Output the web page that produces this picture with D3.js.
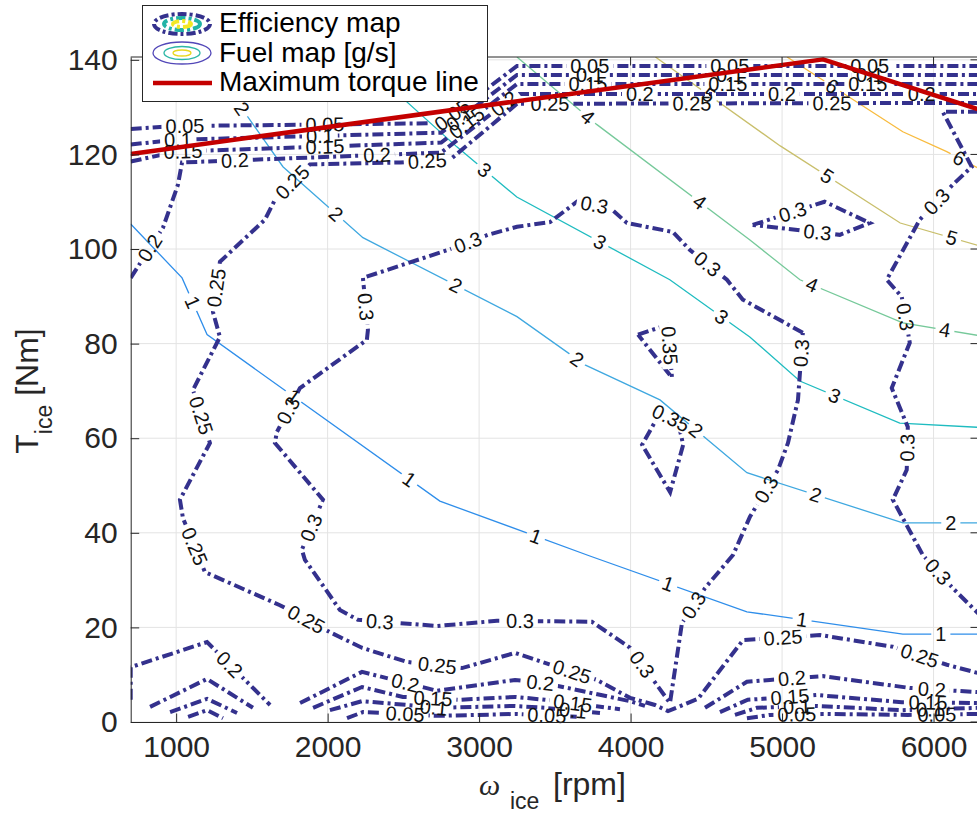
<!DOCTYPE html>
<html lang="en">
<head>
  <meta charset="utf-8">
  <title>Efficiency and fuel map</title>
  <script src="https://d3js.org/d3.v7.min.js"></script>
  <style>
    body { margin: 0; background: #fff; }
    text { font-family: "Liberation Sans", Arial, Helvetica, sans-serif; }
  </style>
</head>
<body>
<script>
  // all points are [speed rpm, torque Nm]

  var xTicks = [1000, 2000, 3000, 4000, 5000, 6000];
  var yTicks = [0, 20, 40, 60, 80, 100, 120, 140];

  var maxTorque = [[700, 120.1], [5270, 140.1], [6300, 129.5]];

  // efficiency map contours (dash-dot)
  var eff005Lines = [
    [[700, 125.4], [1000, 126.0], [2750, 126.6], [3250, 138.7], [6300, 138.7]],
    [[1079, 1.1], [1204, 2.5], [1309, 0.8]],
    [[2128, 0.8], [2233, 2.1], [2392, 1.9], [2722, 1.3], [3250, 1.7], [3666, 1.1]],
    [[4768, 0.8], [4920, 1.5], [5270, 1.7], [5831, 1.5], [6300, 1.7]]
  ];
  var eff005Labels = [[1058, 126.1], [1982, 126.5], [2807, 129.0], [3731, 138.7], [4655, 138.7], [5579, 138.7],
    [2511, 1.5], [3448, 1.9], [5098, 1.5], [6022, 1.1]];

  var eff010Lines = [
    [[700, 122.1], [1000, 123.1], [2750, 124.6], [3250, 136.8], [6300, 136.8]],
    [[960, 2.1], [1204, 4.9], [1402, 1.9]],
    [[2015, 2.5], [2227, 4.4], [2523, 3.6], [2722, 3.0], [3237, 3.4], [3435, 3.0], [3798, 1.9]],
    [[4689, 1.5], [4834, 3.0], [5230, 3.4], [5791, 2.5], [6300, 3.0]]
  ];
  var eff010Labels = [[1012, 123.1], [1949, 123.9], [2847, 128.6], [3731, 136.8], [4655, 136.8], [5579, 136.8],
    [2700, 3.0], [3620, 2.6], [5098, 3.3], [5976, 2.8]];

  var eff015Lines = [
    [[700, 118.5], [1000, 120.6], [2750, 122.5], [3250, 134.9], [6300, 134.9]],
    [[828, 3.2], [1204, 9.1], [1507, 3.0]],
    [[1904, 3.0], [2227, 7.4], [2497, 5.3], [2873, 4.7], [3237, 5.3], [3435, 4.7], [3930, 2.7]],
    [[4590, 2.1], [4774, 4.7], [4873, 4.9], [5230, 5.7], [5791, 4.2], [6300, 4.0]]
  ];
  var eff015Labels = [[1045, 120.4], [1982, 121.8], [2913, 126.9], [3718, 134.9], [4642, 134.9], [5566, 134.9],
    [2695, 4.7], [3619, 4.2], [5052, 5.3], [5963, 4.2]];

  var eff020Lines = [
    [[700, 93.9], [913, 104.5], [1012, 113.6], [1039, 118.3], [2750, 120.4], [3250, 132.8], [6300, 132.8]],
    [[700, 4.7], [700, 11.6], [1204, 16.9], [1620, 3.6]],
    [[1818, 4.0], [2227, 10.6], [2722, 6.6], [3237, 8.9], [3435, 8.2], [3996, 4.4], [4095, 3.4]],
    [[4491, 3.0], [4768, 8.5], [4920, 8.9], [5270, 9.7], [5843, 7.2], [6300, 6.3]]
  ];
  var eff020Labels = [[794, 100.9], [1388, 118.4], [2326, 119.9], [3157, 131.1], [4061, 132.8], [4999, 132.8], [5922, 132.8],
    [1369, 12.7], [2511, 8.2], [3402, 7.8], [5065, 9.3], [5989, 6.8]];

  var eff025Lines = [
    [[6300, 130.9], [3250, 130.7], [2808, 118.9], [2478, 118.3], [1883, 117.9], [1652, 110.4], [1586, 106.2],
     [1289, 97.3], [1243, 86.7], [1289, 81.4], [1111, 70.2], [1223, 59.0], [1025, 47.0], [1045, 43.1],
     [1190, 31.7], [1685, 24.7], [2015, 19.0], [2226, 15.7], [2523, 12.7], [2887, 11.4], [3237, 14.6],
     [3435, 12.5], [3778, 8.9], [3996, 5.1], [4161, 3.6], [4247, 2.3], [4346, 3.6], [4445, 4.9],
     [4742, 17.3], [5250, 18.4], [5731, 15.9], [6088, 12.1], [6300, 10.3]]
  ];
  var eff025Labels = [[1765, 114.2], [2656, 119.3], [3468, 130.7], [4405, 130.7], [5329, 130.7], [1223, 92.0],
    [1171, 64.9], [1111, 37.0], [1864, 22.0], [2722, 11.4], [3613, 10.6], [5006, 18.0], [5910, 14.2]];

  var eff030Lines = [
    [[5137, 82.3], [4741, 89.3], [4636, 93.5], [4392, 99.8], [4279, 103.6], [3976, 105.5], [3864, 108.7],
     [3646, 110.0], [3468, 105.7], [3250, 104.7], [3058, 103.0], [2794, 99.8], [2233, 93.9], [2266, 82.9],
     [2259, 80.8], [1817, 70.6], [1665, 61.3], [1652, 59.0], [1969, 47.0], [1830, 36.4], [1850, 34.3],
     [2081, 23.7], [2200, 21.6], [2722, 20.3], [3118, 21.4], [3745, 21.2], [3996, 15.7], [4260, 4.0],
     [4339, 20.9], [4491, 28.3], [4676, 35.3], [4788, 43.4], [4973, 53.3], [5039, 59.0], [5105, 68.1], [5137, 82.3]],
    [[6300, 129.0], [6061, 129.0], [6252, 117.4], [6127, 113.6], [5909, 106.2], [5691, 93.5], [5790, 89.9],
     [5843, 80.2], [5724, 70.6], [5830, 62.4], [5823, 53.3], [5731, 47.0], [5929, 35.3], [6127, 28.3], [6300, 22.8]],
    [[4806, 105.1], [5281, 110.0], [5579, 105.5], [5381, 103.0], [4806, 105.1]]
  ];
  var eff030Labels = [[3765, 110.0], [4504, 96.7], [5131, 78.0], [2927, 101.3], [2260, 87.8], [1732, 66.0],
    [1896, 41.0], [2345, 21.2], [3270, 21.8], [4115, 13.1], [4392, 25.2], [4900, 49.1],
    [6022, 110.0], [5823, 85.7], [5843, 58.0], [6028, 31.7], [5065, 108.3], [5230, 102.6]];

  var eff035Lines = [
    [[4049, 81.9], [4247, 84.0], [4273, 72.8], [4049, 81.9]],
    [[4195, 65.4], [4314, 63.5], [4347, 58.6], [4261, 48.6], [4076, 58.6], [4195, 65.4]]
  ];
  var eff035Labels = [[4300, 79.7], [4273, 64.7]];

  // fuel map contours [g/s] (thin)
  var fuel1Line = [[700, 105.3], [1039, 93.9], [1204, 81.9], [2741, 46.7], [3731, 35.1], [4768, 23.3], [5797, 18.6], [6300, 18.6]];
  var fuel1Labels = [[1098, 88.6], [1772, 68.7], [2538, 51.2], [3370, 38.9], [4267, 30.9], [5131, 21.4], [6048, 18.6]];
  var fuel2Line = [[1197, 140.6], [1487, 127.3], [1705, 117.4], [2233, 102.4], [3250, 85.7], [3699, 75.5], [4194, 68.1], [4768, 52.7], [5797, 42.1], [6300, 42.1]];
  var fuel2Labels = [[1442, 129.9], [2049, 107.2], [2841, 92.0], [3646, 76.6], [4445, 62.2], [5197, 45.5], [6114, 42.1]];
  var fuel3Line = [[2194, 140.6], [2853, 121.6], [3249, 111.0], [4259, 93.5], [4787, 81.4], [5117, 72.1], [5777, 63.2], [6300, 62.3]];
  var fuel3Labels = [[3026, 116.3], [3798, 101.5], [4610, 86.1], [5329, 67.7]];
  var fuel4Line = [[3250, 140.6], [3778, 126.3], [4788, 101.9], [5118, 93.5], [5797, 84.4], [6300, 81.7]];
  var fuel4Labels = [[3712, 127.7], [4458, 110.0], [5197, 92.4], [6075, 82.9]];
  var fuel5Line = [[4164, 140.6], [4988, 121.8], [5780, 105.5], [6300, 100.7]];
  var fuel5Labels = [[4504, 132.0], [5296, 115.3], [6121, 102.4]];
  var fuel6Line = [[5033, 140.6], [5797, 124.8], [6087, 120.6], [6300, 117.0]];
  var fuel6Labels = [[5316, 133.7], [6173, 119.5]];

  // ---------------------------------------------------------------

  var w = 977, h = 815;
  var effColor = "#34318d";
  var axisColor = "#262626";
  var fuelColor = d3.scaleOrdinal()
    .domain([1, 2, 3, 4, 5, 6])
    .range(["#2f8eea", "#3fa8e0", "#1fbcc0", "#76c99a", "#c9bf6c", "#f8bb3e"]);

  var x = d3.scaleLinear().domain([700, 6300]).range([130.7, 979]);
  var y = d3.scaleLinear().domain([0, 140.6]).range([722, 57]);

  var svg = d3.select("body").append("svg")
    .attr("width", w)
    .attr("height", h);

  var defs = svg.append("defs");
  defs.append("clipPath").attr("id", "plotclip")
    .append("rect")
    .attr("x", x(700)).attr("y", y(140.6))
    .attr("width", x(6300) - x(700)).attr("height", y(0) - y(140.6));

  // grid
  var grid = svg.append("g");
  grid.selectAll(".gx").data(xTicks).join("line")
    .attr("x1", d => x(d)).attr("x2", d => x(d))
    .attr("y1", y(0)).attr("y2", y(140.6))
    .attr("stroke", "#e3e3e3").attr("stroke-width", 1);
  grid.selectAll(".gy").data(yTicks).join("line")
    .attr("y1", d => y(d)).attr("y2", d => y(d))
    .attr("x1", x(700)).attr("x2", x(6300))
    .attr("stroke", "#e3e3e3").attr("stroke-width", 1);

  var fuelG = svg.append("g").attr("clip-path", "url(#plotclip)");
  var effG = svg.append("g").attr("clip-path", "url(#plotclip)");
  var labelG = svg.append("g");
  var redG = svg.append("g").attr("clip-path", "url(#plotclip)");

  var line = d3.line().x(d => x(d[0])).y(d => y(d[1]));

  // closest point of a polyline (in pixels) and the direction there
  function nearest(pts, p) {
    var best = null;
    for (var i = 0; i < pts.length - 1; i++) {
      var a = pts[i], b = pts[i + 1];
      var dx = b[0] - a[0], dy = b[1] - a[1];
      var L2 = dx * dx + dy * dy || 1;
      var t = ((p[0] - a[0]) * dx + (p[1] - a[1]) * dy) / L2;
      t = Math.max(0, Math.min(1, t));
      var q = [a[0] + t * dx, a[1] + t * dy];
      var d = Math.hypot(p[0] - q[0], p[1] - q[1]);
      if (!best || d < best.d) best = {d: d, q: q, ang: Math.atan2(dy, dx) * 180 / Math.PI};
    }
    return best;
  }

  var maskCount = 0;
  function drawContour(g, lines, labels, txt, style) {
    var pxLines = lines.map(l => l.map(d => [x(d[0]), y(d[1])]));
    var holes = pxLines.map(() => []);

    labels.forEach(function(lab) {
      var p = [x(lab[0]), y(lab[1])];
      var pick = null, k = 0;
      pxLines.forEach(function(pl, i) {
        var n = nearest(pl, p);
        if (!pick || n.d < pick.d) { pick = n; k = i; }
      });
      var ang = pick.ang;
      if (ang > 90) ang -= 180;
      if (ang < -90) ang += 180;
      var t = labelG.append("text")
        .attr("transform", "translate(" + pick.q[0] + "," + pick.q[1] + ") rotate(" + ang + ")")
        .attr("text-anchor", "middle")
        .attr("dy", "0.35em")
        .style("font-size", "20px")
        .attr("fill", "#111")
        .text(txt);
      holes[k].push({q: pick.q, ang: ang, len: t.node().getComputedTextLength()});
    });

    pxLines.forEach(function(pl, i) {
      var id = "m" + (maskCount++);
      var m = defs.append("mask").attr("id", id)
        .attr("maskUnits", "userSpaceOnUse")
        .attr("x", 0).attr("y", 0).attr("width", w).attr("height", h);
      m.append("rect").attr("width", w).attr("height", h).attr("fill", "#fff");
      holes[i].forEach(function(hl) {
        m.append("rect")
          .attr("x", -hl.len / 2 - 4).attr("y", -9)
          .attr("width", hl.len + 8).attr("height", 18)
          .attr("transform", "translate(" + hl.q[0] + "," + hl.q[1] + ") rotate(" + hl.ang + ")")
          .attr("fill", "#000");
      });
      var path = g.append("path")
        .attr("d", line(lines[i]))
        .attr("fill", "none")
        .attr("mask", "url(#" + id + ")");
      style(path);
    });
  }

  function effStyle(p) {
    p.attr("stroke", effColor).attr("stroke-width", 4)
      .attr("stroke-dasharray", "11,4,3,4");
  }
  function fuelStyle(level) {
    return function(p) {
      p.attr("stroke", fuelColor(level)).attr("stroke-width", 1.3);
    };
  }

  drawContour(fuelG, [fuel1Line], fuel1Labels, "1", fuelStyle(1));
  drawContour(fuelG, [fuel2Line], fuel2Labels, "2", fuelStyle(2));
  drawContour(fuelG, [fuel3Line], fuel3Labels, "3", fuelStyle(3));
  drawContour(fuelG, [fuel4Line], fuel4Labels, "4", fuelStyle(4));
  drawContour(fuelG, [fuel5Line], fuel5Labels, "5", fuelStyle(5));
  drawContour(fuelG, [fuel6Line], fuel6Labels, "6", fuelStyle(6));

  drawContour(effG, eff005Lines, eff005Labels, "0.05", effStyle);
  drawContour(effG, eff010Lines, eff010Labels, "0.1", effStyle);
  drawContour(effG, eff015Lines, eff015Labels, "0.15", effStyle);
  drawContour(effG, eff020Lines, eff020Labels, "0.2", effStyle);
  drawContour(effG, eff025Lines, eff025Labels, "0.25", effStyle);
  drawContour(effG, eff030Lines, eff030Labels, "0.3", effStyle);
  drawContour(effG, eff035Lines, eff035Labels, "0.35", effStyle);

  // maximum torque line
  redG.append("path")
    .attr("d", line(maxTorque))
    .attr("fill", "none")
    .attr("stroke", "#c40000")
    .attr("stroke-width", 4.5)
    .attr("stroke-linejoin", "round");

  // axes (MATLAB style, ticks inside, box on)
  var xAxis = svg.append("g")
    .attr("transform", "translate(0," + y(0) + ")")
    .call(d3.axisBottom(x).tickValues(xTicks).tickFormat(d3.format("d"))
      .tickSizeInner(-8.5).tickSizeOuter(0).tickPadding(14));
  var yAxis = svg.append("g")
    .attr("transform", "translate(" + x(700) + ",0)")
    .call(d3.axisLeft(y).tickValues(yTicks).tickFormat(d3.format("d"))
      .tickSizeInner(-8.5).tickSizeOuter(0).tickPadding(13));
  [xAxis, yAxis].forEach(function(a) {
    a.selectAll("path, line").attr("stroke", axisColor);
    a.selectAll("text").attr("fill", axisColor)
      .style("font-size", "30px")
      .style("font-family", "'Liberation Sans', Arial, Helvetica, sans-serif");
  });

  // box: top and right edges with their ticks
  svg.append("line").attr("x1", x(700)).attr("x2", x(6300)).attr("y1", y(140.6)).attr("y2", y(140.6))
    .attr("stroke", axisColor);
  svg.append("line").attr("x1", x(6300)).attr("x2", x(6300)).attr("y1", y(0)).attr("y2", y(140.6))
    .attr("stroke", axisColor);
  svg.append("g").selectAll("line").data(xTicks).join("line")
    .attr("x1", d => x(d)).attr("x2", d => x(d))
    .attr("y1", y(140.6)).attr("y2", y(140.6) + 8.5)
    .attr("stroke", axisColor);
  svg.append("g").selectAll("line").data(yTicks).join("line")
    .attr("y1", d => y(d)).attr("y2", d => y(d))
    .attr("x1", x(6300)).attr("x2", x(6300) - 8.5)
    .attr("stroke", axisColor);

  // axis labels
  var yl = svg.append("text")
    .attr("transform", "translate(38,391) rotate(-90)")
    .attr("text-anchor", "middle")
    .attr("fill", axisColor)
    .style("font-size", "32px");
  yl.append("tspan").text("T");
  yl.append("tspan").attr("dy", 14).style("font-size", "23px").text("ice");
  yl.append("tspan").attr("dy", -14).text(" [Nm]");

  svg.append("text").attr("x", 479).attr("y", 795)
    .attr("fill", axisColor)
    .style("font-size", "30px").style("font-style", "italic")
    .style("font-family", "'Liberation Serif', 'DejaVu Serif', serif")
    .text("\u03c9");
  svg.append("text").attr("x", 510).attr("y", 809)
    .attr("fill", axisColor).style("font-size", "23px").text("ice");
  svg.append("text").attr("x", 553).attr("y", 795)
    .attr("fill", axisColor).style("font-size", "32px").text("[rpm]");

  // legend
  var leg = svg.append("g");
  leg.append("rect")
    .attr("x", 142.5).attr("y", 5.5).attr("width", 345).attr("height", 96)
    .attr("fill", "#fff").attr("stroke", axisColor).attr("stroke-width", 1);

  leg.append("ellipse").attr("cx", 182).attr("cy", 24).attr("rx", 28).attr("ry", 10)
    .attr("fill", "none").attr("stroke", effColor).attr("stroke-width", 4)
    .attr("stroke-dasharray", "9,3,3,3");
  leg.append("ellipse").attr("cx", 182).attr("cy", 24).attr("rx", 18).attr("ry", 6)
    .attr("fill", "none").attr("stroke", "#22b3a6").attr("stroke-width", 4)
    .attr("stroke-dasharray", "9,3,3,3");
  leg.append("ellipse").attr("cx", 182).attr("cy", 24).attr("rx", 9).attr("ry", 3)
    .attr("fill", "none").attr("stroke", "#f3e824").attr("stroke-width", 4)
    .attr("stroke-dasharray", "9,3,3,3");

  leg.append("ellipse").attr("cx", 182).attr("cy", 53).attr("rx", 29).attr("ry", 11)
    .attr("fill", "none").attr("stroke", "#5247b8").attr("stroke-width", 1.3);
  leg.append("ellipse").attr("cx", 182).attr("cy", 53).attr("rx", 18).attr("ry", 6.5)
    .attr("fill", "none").attr("stroke", "#2cb7a6").attr("stroke-width", 1.3);
  leg.append("ellipse").attr("cx", 182).attr("cy", 53).attr("rx", 9).attr("ry", 3)
    .attr("fill", "none").attr("stroke", "#e8d820").attr("stroke-width", 1.3);

  leg.append("line").attr("x1", 153).attr("x2", 212).attr("y1", 83).attr("y2", 83)
    .attr("stroke", "#c40000").attr("stroke-width", 4.5);

  var legText = ["Efficiency map", "Fuel map [g/s]", "Maximum torque line"];
  leg.selectAll(".lt").data(legText).join("text")
    .attr("x", 219)
    .attr("y", (d, i) => [32, 62, 91][i])
    .attr("fill", "#000")
    .style("font-size", "28px")
    .text(d => d);
</script>
</body>
</html>
